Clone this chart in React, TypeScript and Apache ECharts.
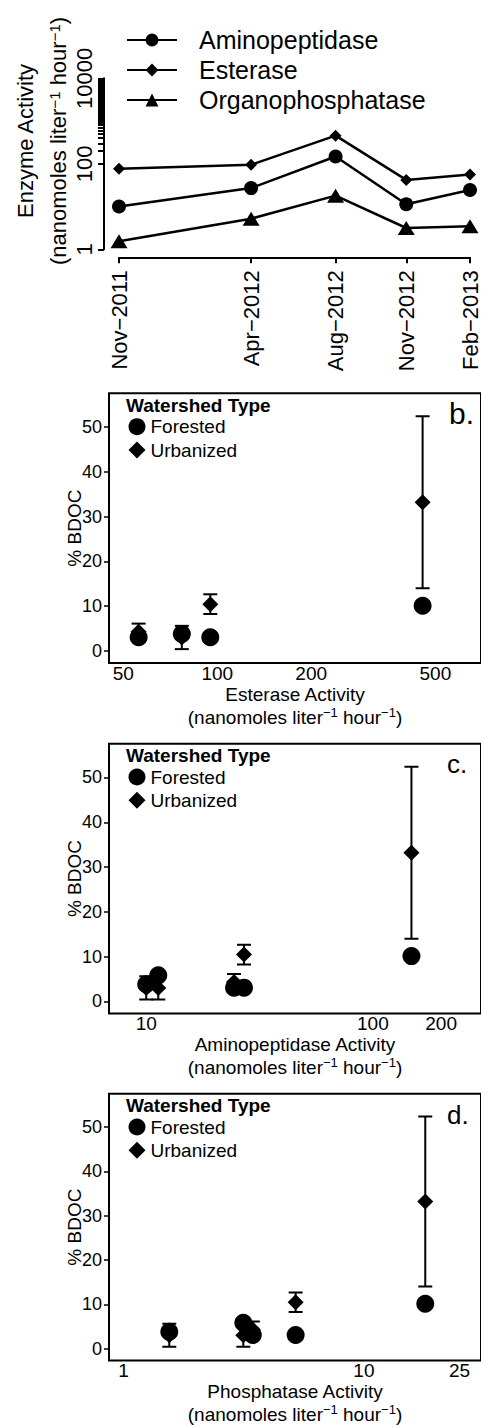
import React, { useEffect, useRef } from 'react';
import * as echarts from 'echarts';

// ---------- data ----------
const sampleDates = ['2011-11-10', '2012-04-30', '2012-08-18', '2012-11-18', '2013-02-09'];
const dateLabels = ['Nov−2011', 'Apr−2012', 'Aug−2012', 'Nov−2012', 'Feb−2013'];
const aminopeptidase = [10, 27, 148, 11.3, 24.4];
const esterase = [77, 95, 455, 42, 56];
const phosphatase = [1.55, 5.2, 18, 3.15, 3.45];
const forestedBDOC = [3.8, 3.05, 10.1, 5.8, 3.05];
const urbanizedBDOC = [3.0, 10.45, 33.2, 3.0, 4.3];
const urbanizedSE = [2.6, 2.2, 19.2, 2.6, 1.8];

const enzymeYLabels = [1, 100, 10000];
const enzymeYTicks = [1, ...Array.from({ length: 100 }, (_, i) => (i + 1) * 100)];
const esteraseTicks = [50, 100, 200, 500];
const aminoTicks = [10, 100, 200];
const phosTicks = [1, 10, 25];
const bdocTicks = [0, 10, 20, 30, 40, 50];

const FONT = 'Liberation Sans';

const sampleTimes = sampleDates.map((s) => {
  const [y, m, d] = s.split('-').map(Number);
  return new Date(y, m - 1, d).getTime();
});

function dateLabel(v: number) {
  const i = sampleTimes.findIndex((t) => Math.abs(t - v) < 86400000);
  return i >= 0 ? dateLabels[i] : '';
}

const unitName = '(nanomoles liter{s|−1} hour{s|−1})';

function errorBarRender(params: any, api: any) {
  const x = api.value(0);
  const y = api.value(1);
  const e = api.value(2);
  const top = api.coord([x, y + e]);
  const bot = api.coord([x, y - e]);
  const hw = 7;
  const st = { stroke: '#000', lineWidth: 2 };
  return {
    type: 'group',
    children: [
      { type: 'line', shape: { x1: top[0], y1: top[1], x2: bot[0], y2: bot[1] }, style: st },
      { type: 'line', shape: { x1: top[0] - hw, y1: top[1], x2: top[0] + hw, y2: top[1] }, style: st },
      { type: 'line', shape: { x1: bot[0] - hw, y1: bot[1], x2: bot[0] + hw, y2: bot[1] }, style: st },
    ],
  };
}

function scatterPanel(idx: number, xs: number[]) {
  return [
    {
      name: 'Urbanized',
      type: 'scatter',
      xAxisIndex: idx,
      yAxisIndex: idx,
      symbol: 'diamond',
      symbolSize: 16,
      itemStyle: { color: '#000', opacity: 1 },
      data: xs.map((x, i) => [x, urbanizedBDOC[i]]),
      clip: true,
      z: 2,
    },
    {
      name: 'Forested',
      type: 'scatter',
      xAxisIndex: idx,
      yAxisIndex: idx,
      symbol: 'circle',
      symbolSize: 18,
      itemStyle: { color: '#000', opacity: 1 },
      data: xs.map((x, i) => [x, forestedBDOC[i]]),
      clip: true,
      z: 3,
    },
    {
      name: 'Urbanized SE',
      type: 'custom',
      xAxisIndex: idx,
      yAxisIndex: idx,
      renderItem: errorBarRender,
      encode: { x: 0, y: 1 },
      data: xs.map((x, i) => [x, urbanizedBDOC[i], urbanizedSE[i]]),
      clip: true,
      z: 4,
    },
  ];
}

const gridTops = [393.3, 743.7, 1093.7];

function bdocYAxis(idx: number) {
  return {
    type: 'value',
    gridIndex: idx,
    min: -2.7,
    max: 57.55,
    name: '% BDOC',
    nameLocation: 'middle',
    nameGap: 25,
    nameMoveOverlap: false,
    nameTextStyle: { fontSize: 19, color: '#000', fontFamily: FONT },
    axisLine: { show: false },
    axisTick: { show: true, length: 5, lineStyle: { color: '#000', width: 1.5 }, customValues: bdocTicks },
    axisLabel: { color: '#000', fontSize: 18, margin: 7, fontFamily: FONT, customValues: bdocTicks },
    splitLine: { show: false },
  };
}

function activityXAxis(idx: number, name: string, min: number, max: number, ticks: number[]) {
  return {
    type: 'log',
    gridIndex: idx,
    min,
    max,
    name: name + '\n' + unitName,
    nameLocation: 'middle',
    nameGap: 19.5,
    nameMoveOverlap: false,
    nameTextStyle: {
      fontSize: 19,
      lineHeight: 23,
      color: '#000',
      fontFamily: FONT,
      rich: { s: { fontSize: 13, verticalAlign: 'top', fontFamily: FONT, color: '#000' } },
    },
    axisLine: { show: false },
    axisTick: { show: false },
    axisLabel: {
      color: '#000',
      fontSize: 19,
      lineHeight: 17,
      margin: 1.5,
      fontFamily: FONT,
      customValues: ticks,
      formatter: (v: number) => String(Math.round(v)),
    },
    splitLine: { show: false },
  };
}

const legendRowTops = [416.7, 767, 1117];

export default function App() {
  const ref = useRef<HTMLDivElement>(null);
  useEffect(() => {
    document.body.style.margin = '0';
    const chart = echarts.init(ref.current!, null, { renderer: 'svg' });
    const option: any = {
      animation: false,
      textStyle: { fontFamily: FONT },
      grid: [
        { left: 119, top: 78.3, width: 354.3, height: 171 },
        ...gridTops.map((t) => ({
          left: 109,
          top: t,
          width: 376,
          height: 269.7,
          show: true,
          borderColor: '#000',
          borderWidth: 2,
          backgroundColor: 'transparent',
        })),
      ],
      title: [
        ...gridTops.map((t) => ({
          text: 'Watershed Type',
          left: 126,
          top: t + 2.2,
          padding: 0,
          textStyle: { fontSize: 19, fontWeight: 'bold', color: '#000', fontFamily: FONT },
        })),
        { text: 'b.', left: 449, top: 398.8, padding: 0, textStyle: { fontSize: 30, fontWeight: 'normal', color: '#000', fontFamily: FONT } },
        { text: 'c.', left: 447, top: 751.2, padding: 0, textStyle: { fontSize: 26, fontWeight: 'normal', color: '#000', fontFamily: FONT } },
        { text: 'd.', left: 447, top: 1101.9, padding: 0, textStyle: { fontSize: 26, fontWeight: 'normal', color: '#000', fontFamily: FONT } },
      ],
      legend: [
        {
          data: ['Aminopeptidase', 'Esterase', 'Organophosphatase'],
          orient: 'vertical',
          left: 126,
          top: 25,
          padding: 0,
          itemGap: 0,
          itemWidth: 50,
          itemHeight: 16,
          selectedMode: false,
          textStyle: { fontSize: 25, lineHeight: 30, color: '#000', fontFamily: FONT, padding: [0, 0, 0, 17] },
        },
        ...legendRowTops.map((t) => ({
          data: ['Forested', 'Urbanized'],
          orient: 'vertical',
          left: 128.5,
          top: t,
          padding: 0,
          itemGap: 3.3,
          itemWidth: 17,
          itemHeight: 17,
          selectedMode: false,
          itemStyle: { opacity: 1 },
          textStyle: { fontSize: 19, lineHeight: 20, color: '#000', fontFamily: FONT },
        })),
      ],
      graphic: [
        {
          type: 'text',
          x: 25,
          y: 141,
          rotation: Math.PI / 2,
          style: { text: 'Enzyme Activity', fontSize: 22, fontFamily: FONT, fill: '#000', align: 'center', verticalAlign: 'middle' },
        },
        {
          type: 'text',
          x: 58,
          y: 141,
          rotation: Math.PI / 2,
          style: {
            text: unitName,
            fontSize: 22,
            fontFamily: FONT,
            fill: '#000',
            align: 'center',
            verticalAlign: 'middle',
            rich: { s: { fontSize: 15, verticalAlign: 'top', fontFamily: FONT, fill: '#000' } },
          },
        },
      ],
      xAxis: [
        {
          type: 'value',
          gridIndex: 0,
          min: sampleTimes[0],
          max: sampleTimes[sampleTimes.length - 1],
          offset: 8,
          axisLine: { show: true, lineStyle: { color: '#000', width: 2 } },
          axisTick: { show: true, length: 6, lineStyle: { color: '#000', width: 2 }, customValues: sampleTimes },
          axisLabel: { color: '#000', fontSize: 22, rotate: 90, margin: 13, fontFamily: FONT, customValues: sampleTimes, formatter: (v: number) => dateLabel(v) },
          splitLine: { show: false },
        },
        activityXAxis(1, 'Esterase Activity', 45, 700, esteraseTicks),
        activityXAxis(2, 'Aminopeptidase Activity', 6.85, 300, aminoTicks),
        activityXAxis(3, 'Phosphatase Activity', 0.87, 30.7, phosTicks),
      ],
      yAxis: [
        {
          type: 'log',
          gridIndex: 0,
          min: 1,
          max: 10000,
          offset: 15,
          axisLine: { show: true, lineStyle: { color: '#000', width: 2 } },
          axisTick: { show: true, length: 6, lineStyle: { color: '#000', width: 2 }, customValues: enzymeYTicks },
          axisLabel: { color: '#000', fontSize: 22, rotate: 90, margin: 9, fontFamily: FONT, customValues: enzymeYLabels, formatter: (v: number) => String(Math.round(v)) },
          splitLine: { show: false },
        },
        bdocYAxis(1),
        bdocYAxis(2),
        bdocYAxis(3),
      ],
      series: [
        {
          name: 'Aminopeptidase',
          type: 'line',
          xAxisIndex: 0,
          yAxisIndex: 0,
          symbol: 'circle',
          symbolSize: 14,
          lineStyle: { color: '#000', width: 2.5 },
          itemStyle: { color: '#000' },
          data: sampleTimes.map((t, i) => [t, aminopeptidase[i]]),
        },
        {
          name: 'Esterase',
          type: 'line',
          xAxisIndex: 0,
          yAxisIndex: 0,
          symbol: 'diamond',
          symbolSize: [12, 12],
          lineStyle: { color: '#000', width: 2.5 },
          itemStyle: { color: '#000' },
          data: sampleTimes.map((t, i) => [t, esterase[i]]),
        },
        {
          name: 'Organophosphatase',
          type: 'line',
          xAxisIndex: 0,
          yAxisIndex: 0,
          symbol: 'triangle',
          symbolSize: [17, 14],
          lineStyle: { color: '#000', width: 2.5 },
          itemStyle: { color: '#000' },
          data: sampleTimes.map((t, i) => [t, phosphatase[i]]),
        },
        ...scatterPanel(1, esterase),
        ...scatterPanel(2, aminopeptidase),
        ...scatterPanel(3, phosphatase),
      ],
    };
    chart.setOption(option);
    return () => chart.dispose();
  }, []);
  return <div ref={ref} style={{ width: 481, height: 1427 }} />;
}
